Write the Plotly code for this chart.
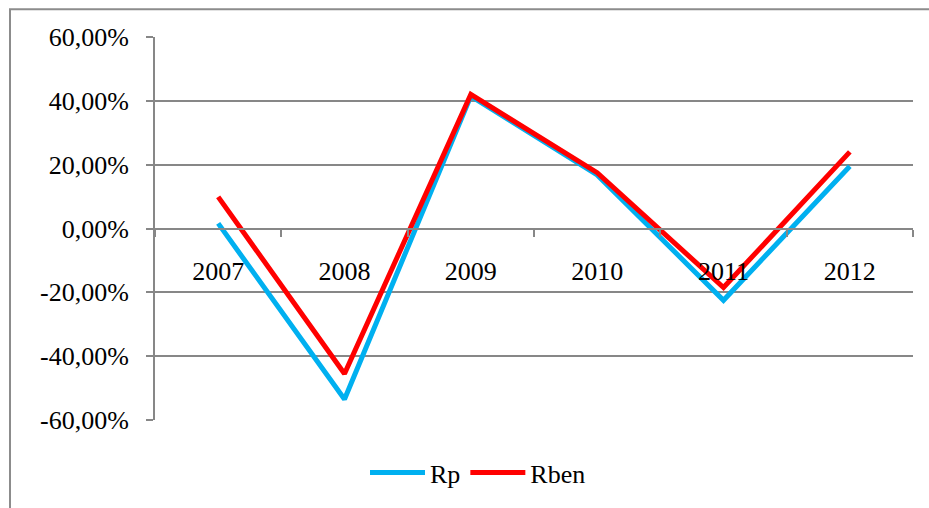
import plotly.graph_objects as go

years = ["2007", "2008", "2009", "2010", "2011", "2012"]
rp = [0.016, -0.535, 0.415, 0.168, -0.225, 0.195]
rben = [0.099, -0.455, 0.420, 0.175, -0.185, 0.240]
y_ticks = [-0.6, -0.4, -0.2, 0.0, 0.2, 0.4, 0.6]
y_tick_labels = ["-60,00%", "-40,00%", "-20,00%", "0,00%", "20,00%", "40,00%", "60,00%"]

grid_col = "#878787"
font_family = "Liberation Serif"

fig = go.Figure()
fig.add_trace(go.Scatter(x=years, y=rp, mode="lines", name="Rp",
                         line=dict(color="#00B0F0", width=5)))
fig.add_trace(go.Scatter(x=years, y=rben, mode="lines", name="Rben",
                         line=dict(color="#FF0000", width=5)))

# Plot-area margins and page size in pixels
L, R, T, B = 155, 16, 37, 85
W, H = 929, 508
pw, ph = W - L - R, H - T - B
def px_x(v):
    return (v - L) / pw
def px_y(v):
    return (H - B - v) / ph

# Outer chart border (runs past the right and bottom edges of the page)
fig.add_shape(type="rect", xref="paper", yref="paper",
              x0=px_x(10), x1=px_x(940), y0=px_y(9), y1=px_y(520),
              line=dict(color="#8c8c8c", width=2), fillcolor="rgba(0,0,0,0)",
              layer="below")

fig.update_layout(
    width=W, height=H,
    margin=dict(l=L, r=R, t=T, b=B),
    paper_bgcolor="white", plot_bgcolor="white",
    font=dict(family=font_family, size=26, color="black"),
    showlegend=True,
    legend=dict(orientation="h", x=px_x(478), xanchor="center",
                y=px_y(476), yanchor="middle",
                font=dict(family=font_family, size=26),
                itemwidth=55, tracegroupgap=0),
    xaxis=dict(
        type="category",
        anchor="free", position=0.5,
        showline=True, linecolor=grid_col, linewidth=2,
        ticks="outside", ticklen=7, tickcolor=grid_col, tickwidth=2,
        tickson="boundaries",
        showgrid=False, zeroline=False,
        ticklabelstandoff=19,
        tickfont=dict(family=font_family, size=26),
        range=[-0.5, 5.5],
    ),
    yaxis=dict(
        range=[-0.6, 0.6],
        tickmode="array", tickvals=y_ticks, ticktext=y_tick_labels,
        showgrid=True, gridcolor=grid_col, gridwidth=2,
        zeroline=False,
        showline=True, linecolor=grid_col, linewidth=2,
        ticks="outside", ticklen=7, tickcolor=grid_col, tickwidth=2,
        ticklabelstandoff=12,
        tickfont=dict(family=font_family, size=26),
    ),
)

fig.write_html("out.html")
